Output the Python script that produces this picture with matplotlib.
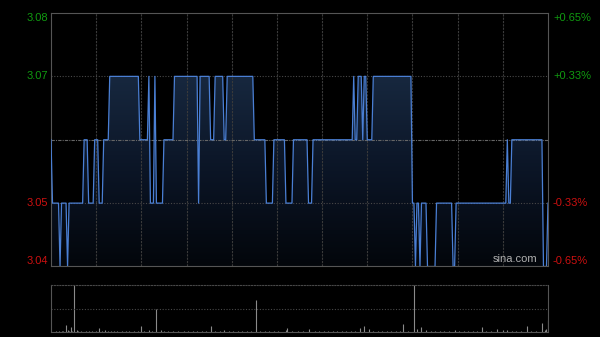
import numpy as np
import matplotlib
matplotlib.use("Agg")
from matplotlib import pyplot as plt
from matplotlib.colors import LinearSegmentedColormap

# price: minute where a new level starts, and that level (330 trading minutes)
change_minute = [0, 1, 6, 7, 11, 12, 22, 25, 29, 32, 35, 39, 59, 65, 66, 69, 70, 75, 82,
                 98, 99, 106, 109, 115, 117, 135, 143, 148, 156, 161, 171, 174, 201, 202,
                 204, 207, 208, 210, 214, 240, 242, 243, 245, 246, 250, 256, 267, 269,
                 303, 304, 306, 327, 330]
change_price = [3.06, 3.05, 3.04, 3.05, 3.04, 3.05, 3.06, 3.05, 3.06, 3.05, 3.06, 3.07,
                3.06, 3.07, 3.05, 3.07, 3.05, 3.06, 3.07, 3.05, 3.07, 3.06, 3.07, 3.06,
                3.07, 3.06, 3.05, 3.06, 3.05, 3.06, 3.05, 3.06, 3.07, 3.06, 3.07, 3.06,
                3.07, 3.06, 3.07, 3.05, 3.04, 3.05, 3.04, 3.05, 3.04, 3.05, 3.04, 3.05,
                3.06, 3.05, 3.06, 3.04, 3.05]
prev_close = 3.06

# volume (relative, no scale shown)
vol_minute = [3, 5, 7, 8, 10, 11, 12, 13, 14, 15, 17, 18, 20, 23, 25, 27, 30, 32, 34, 36,
              38, 40, 42, 44, 47, 50, 52, 55, 58, 60, 62, 65, 67, 70, 73, 75, 78, 81, 84,
              88, 91, 94, 97, 100, 103, 106, 109, 112, 115, 118, 121, 124, 127, 130, 133,
              136, 139, 142, 145, 148, 151, 156, 157, 160, 164, 167, 171, 175, 178, 181,
              184, 187, 190, 193, 196, 199, 202, 205, 208, 211, 214, 217, 220, 223, 226,
              229, 232, 234, 237, 241, 243, 246, 249, 252, 255, 258, 261, 264, 268, 271,
              274, 277, 280, 283, 286, 289, 292, 296, 300, 303, 306, 309, 312, 316, 319,
              322, 326, 328, 329, 330]
vol_value = [2, 3, 2, 3, 14, 5, 3, 11, 2, 100, 5, 3, 2, 3, 2, 3, 2, 9, 3, 5,
             2, 3, 2, 2, 3, 2, 3, 2, 2, 13, 3, 4, 2, 49, 5, 2, 3, 2, 3,
             2, 2, 3, 2, 3, 2, 13, 3, 2, 5, 2, 3, 2, 2, 3, 2,
             69, 2, 3, 2, 2, 3, 4, 9, 2, 3, 2, 7, 2, 3, 2,
             2, 3, 2, 2, 3, 2, 3, 9, 13, 7, 2, 3, 2, 2, 3,
             2, 3, 16, 2, 100, 6, 11, 4, 2, 3, 3, 2, 3, 5, 2,
             3, 2, 2, 3, 11, 2, 3, 7, 5, 5, 3, 2, 3, 13, 2,
             3, 19, 5, 6, 25]

n_min = 330
dur = np.diff(change_minute + [n_min + 1])
price = np.repeat(change_price, dur)
minutes = np.arange(len(price))

fig = plt.figure(figsize=(6.0, 3.37), dpi=100, facecolor="black")
ax = fig.add_axes([0.085, 0.2092, 0.8283, 0.7522], facecolor="black")
axv = fig.add_axes([0.085, 0.0148, 0.8283, 0.1395], facecolor="black")

ymin, ymax = 3.04, 3.08
ax.set_xlim(0, n_min)
ax.set_ylim(ymin, ymax)

# gradient fill under the line
cmap = LinearSegmentedColormap.from_list("fill", ["#03060b", "#0b1526", "#17283f"])
grad = np.linspace(0, 1, 256).reshape(-1, 1)
img = ax.imshow(grad, aspect="auto", cmap=cmap, origin="lower",
                extent=[0, n_min, ymin, 3.07], zorder=1)
poly = ax.fill_between(minutes, price, ymin, color="none", lw=0)
img.set_clip_path(poly.get_paths()[0], transform=ax.transData)
ax.set_ylim(ymin, ymax)

ax.plot(minutes, price, color="#4a7fd4", lw=0.9, zorder=3)

# grid
for m in range(30, n_min, 30):
    ax.axvline(m, color="#3a3a3a", lw=0.8, ls=(0, (2, 1)), zorder=2)
for yv in [3.07, 3.05]:
    ax.axhline(yv, color="#484848", lw=0.8, ls=(0, (1, 1.5)), zorder=2)
ax.axhline(prev_close, color="#666666", lw=0.8, ls=(0, (3, 1, 1, 1)), zorder=2)

for s in ax.spines.values():
    s.set_color("#555555")
    s.set_linewidth(0.8)
ax.set_xticks([])
ax.set_yticks([])

# price and percent labels
green, red = "#109a10", "#cc1010"
lbl = dict(fontsize=8, family="Liberation Sans", transform=ax.get_yaxis_transform())
for yv, va in [(3.08, "top"), (3.07, "center"), (3.05, "center"), (3.04, "bottom")]:
    c = green if yv > prev_close else red
    ax.text(-0.006, yv, "%.2f" % yv, ha="right", va=va, color=c, **lbl)
    pct = (yv - prev_close) / prev_close * 100
    ax.text(1.01, yv, "%+.2f%%" % pct, ha="left", va=va, color=c, **lbl)

ax.text(0.978, 0.008, "sina.com", transform=ax.transAxes, ha="right", va="bottom",
        color="#b0b0b0", fontsize=8, family="Liberation Sans", zorder=4)

# volume panel
axv.set_xlim(0, n_min)
axv.set_ylim(0, max(vol_value))
axv.vlines(vol_minute, 0, vol_value, color="#8a8a8a", lw=0.8)
axv.axhline(max(vol_value) / 2, color="#484848", lw=0.8, ls=(0, (1, 1.5)))
for s in axv.spines.values():
    s.set_color("#555555")
    s.set_linewidth(0.8)
axv.spines["top"].set_linestyle((0, (1, 1.5)))
axv.spines["top"].set_color("#484848")
axv.set_xticks([])
axv.set_yticks([])

fig.savefig("out.png", dpi=100, facecolor="black")
